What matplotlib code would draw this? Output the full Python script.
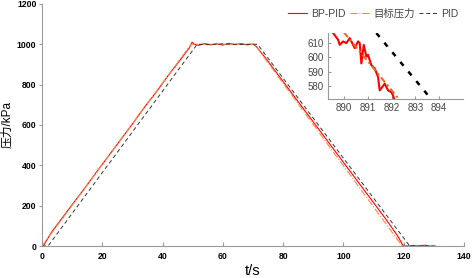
import matplotlib
matplotlib.use("Agg")
import matplotlib.pyplot as plt

plt.rcParams["font.family"] = ["Liberation Sans", "Noto Sans CJK SC", "DejaVu Sans"]

# main curves (t in s, pressure in kPa)
t_bp = [0, 0.5, 3, 6, 10, 14, 18, 22, 26, 30, 34, 38, 42, 46, 49, 49.8, 50.5, 52, 54, 56,
        58, 60, 62, 64, 66, 68, 70, 71, 74, 78, 82, 86, 90, 94, 98, 102, 106, 110, 114,
        118, 119.8, 121, 123, 125, 127, 129, 130.5]
p_bp = [0, 2, 65, 125, 205, 283, 365, 445, 525, 605, 688, 765, 848, 925, 985, 1010, 1000,
        995, 1003, 997, 1002, 996, 1004, 998, 1003, 997, 1001, 990, 935, 855, 775, 695,
        615, 535, 455, 375, 295, 215, 135, 50, 2, 0, 3, 1, 4, 0, 0]

t_ref = [0, 49.5, 70.5, 119.5, 130]
p_ref = [0, 1000, 1000, 0, 0]

t_pid = [0, 2, 51.5, 55, 60, 65, 71.5, 122, 130]
p_pid = [0, 0, 1000, 998, 1002, 999, 1000, 0, 0]

# inset (zoomed detail)
x_bp_in = [889.54, 889.75, 889.82, 889.96, 890.1, 890.24, 890.38, 890.45, 890.59, 890.66,
           890.73, 890.83, 890.94, 891.01, 891.15, 891.29, 891.43, 891.5, 891.71, 891.85,
           891.99, 892.06, 892.13]
y_bp_in = [617.1, 612.4, 608.8, 611.2, 610, 613.5, 608.8, 606.5, 611.2, 610, 595.8, 608.8,
           600.5, 601.8, 594.6, 592.3, 586.4, 577, 581.7, 577, 575.7, 573.4, 569.8]
x_ref_in = [890.0, 892.4]
y_ref_in = [617.5, 569]
x_pid_in = [891.36, 893.56]
y_pid_in = [617.0, 573.0]

fig = plt.figure(figsize=(4.72, 2.78), dpi=100)
ax = fig.add_axes([0.089, 0.115, 0.894, 0.871])

ax.plot(t_bp, p_bp, color="red", lw=0.8, label="BP-PID")
ax.plot(t_ref, p_ref, color="#f08a4b", lw=0.8, ls="-.", label="目标压力")
ax.plot(t_pid, p_pid, color="#333333", lw=0.7, ls=(0, (4, 3)), label="PID")

ax.set_xlim(0, 140)
ax.set_ylim(0, 1200)
ax.set_xticks(range(0, 141, 20))
ax.set_yticks(range(0, 1201, 200))
for s in ["top", "right"]:
    ax.spines[s].set_visible(False)
for s in ["left", "bottom"]:
    ax.spines[s].set_color("#999999")
ax.tick_params(axis="x", direction="in", length=3, color="#999999", labelsize=6.2, pad=4)
ax.tick_params(axis="y", direction="out", length=2, color="#999999", labelsize=6.2, pad=2)
for lab in ax.get_xticklabels() + ax.get_yticklabels():
    lab.set_fontweight("bold")
ax.set_xlabel("t/s", fontsize=10.5)
ax.xaxis.set_label_coords(0.5, -0.075, transform=ax.transAxes)
ax.xaxis.label.set_va("top")
ax.set_ylabel("压力/kPa", fontsize=8.5)
ax.yaxis.set_label_coords(-0.068, 0.5)

ax.legend(loc="upper right", bbox_to_anchor=(1.01, 1.02), ncol=3, frameon=False,
          fontsize=7.5, handlelength=1.8, columnspacing=0.4, handletextpad=0.4,
          labelcolor="#444444")

axin = fig.add_axes([0.695, 0.644, 0.286, 0.237])
axin.plot(x_bp_in, y_bp_in, color="red", lw=1.5)
axin.plot(x_ref_in, y_ref_in, color="#e0702a", lw=1.5, ls=(0, (3, 1.5, 1, 1.5)))
axin.plot(x_pid_in, y_pid_in, color="black", lw=1.8, ls=(0, (2, 3)))
axin.set_xlim(889.33, 895.0)
axin.set_ylim(571, 617)
axin.set_xticks([890, 891, 892, 893, 894])
axin.set_yticks([580, 590, 600, 610])
for s in ["top", "right"]:
    axin.spines[s].set_visible(False)
for s in ["left", "bottom"]:
    axin.spines[s].set_color("#999999")
axin.tick_params(direction="in", length=2, color="#999999", labelsize=7,
                 labelcolor="#444444", pad=3)

fig.savefig("out.png", dpi=100)
